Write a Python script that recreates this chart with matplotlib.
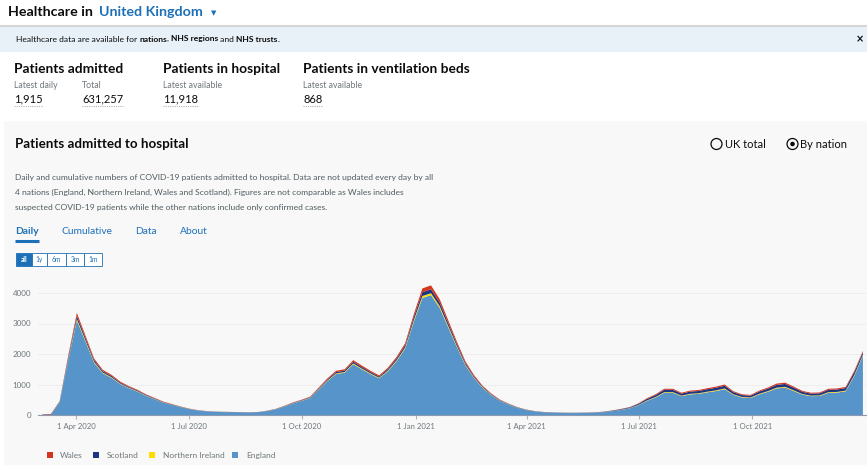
import numpy as np
import matplotlib.pyplot as plt
from matplotlib.patches import Rectangle, Circle

W, H = 867, 465
plt.rcParams['font.family'] = ['Lato', 'DejaVu Sans']

# weekly admissions by nation (value at mid-week), weeks starting 1 Mar 2020
week_start = np.datetime64('2020-03-01')
england = [0, 0, 415, 1805, 3100, 2405, 1712, 1370, 1220, 1018, 880, 768, 630,
           518, 407, 333, 260, 195, 148, 120, 106, 97, 93, 88, 83, 93,
           130, 185, 277, 380, 462, 555, 832, 1110, 1340, 1387, 1665, 1498, 1340,
           1202, 1433, 1757, 2175, 3052, 3838, 3930, 3515, 2867, 2220, 1618, 1202,
           880, 648, 462, 342, 240, 166, 119, 90, 80, 70, 65, 64,
           68, 75, 93, 126, 169, 220, 321, 464, 575, 727, 727, 617,
           676, 692, 744, 786, 845, 659, 575, 558, 676, 760, 870, 896,
           786, 667, 617, 624, 727, 735, 777, 1280, 1950]
northern_ireland = [0, 2, 7, 29, 50, 39, 28, 22, 20, 16, 14, 12, 10,
                    8, 7, 5, 4, 3, 2, 2, 2, 2, 1, 1, 1, 1,
                    2, 3, 5, 6, 8, 9, 14, 18, 22, 23, 27, 24, 22,
                    20, 23, 29, 35, 50, 62, 64, 57, 47, 36, 26, 20,
                    14, 10, 8, 6, 4, 3, 2, 2, 2, 2, 2, 2,
                    2, 3, 3, 4, 5, 7, 10, 14, 17, 22, 22, 18,
                    20, 21, 22, 23, 25, 20, 17, 17, 20, 23, 26, 27,
                    23, 20, 18, 19, 22, 22, 23, 30, 30]
scotland = [10, 18, 14, 58, 100, 78, 55, 44, 40, 33, 28, 25, 20,
            17, 13, 11, 8, 6, 5, 4, 3, 3, 3, 3, 3, 3,
            4, 6, 9, 12, 15, 18, 27, 36, 44, 45, 54, 49, 44,
            39, 47, 57, 70, 99, 125, 128, 114, 93, 72, 53, 39,
            28, 21, 15, 11, 8, 6, 5, 5, 5, 5, 5, 6,
            7, 8, 10, 14, 18, 23, 34, 50, 61, 77, 77, 66,
            72, 74, 79, 84, 90, 70, 61, 59, 72, 81, 93, 95,
            84, 71, 66, 67, 77, 78, 83, 95, 80]
wales = [10, 15, 14, 58, 100, 78, 55, 44, 40, 33, 28, 25, 20,
         17, 13, 11, 8, 6, 5, 4, 4, 3, 3, 3, 3, 3,
         4, 6, 9, 12, 15, 18, 27, 36, 44, 45, 54, 49, 44,
         39, 47, 57, 70, 99, 125, 128, 114, 93, 72, 53, 39,
         28, 21, 15, 11, 8, 5, 4, 3, 3, 3, 3, 3,
         3, 4, 4, 6, 8, 10, 15, 22, 27, 34, 34, 29,
         32, 33, 35, 37, 40, 31, 27, 26, 32, 36, 41, 42,
         37, 32, 29, 30, 34, 35, 37, 45, 40]

tick_dates = ['2020-04-01', '2020-07-01', '2020-10-01', '2021-01-01',
              '2021-04-01', '2021-07-01', '2021-10-01']
tick_labels = ['1 Apr 2020', '1 Jul 2020', '1 Oct 2020', '1 Jan 2021',
               '1 Apr 2021', '1 Jul 2021', '1 Oct 2021']

nations = ['England', 'Northern Ireland', 'Scotland', 'Wales']
colors = {'England': '#5694ca', 'Northern Ireland': '#ffdd00',
          'Scotland': '#1d3582', 'Wales': '#d4351c'}
series = {'England': england, 'Northern Ireland': northern_ireland,
          'Scotland': scotland, 'Wales': wales}

BLUE = '#1d70b8'
GREY = '#6f777b'
DARK = '#0b0c0c'

fig = plt.figure(figsize=(W / 100, H / 100), dpi=100)
bg = fig.add_axes([0, 0, 1, 1])
bg.set_xlim(0, W)
bg.set_ylim(H, 0)
bg.axis('off')
renderer = fig.canvas.get_renderer()


def put(x, y, s, **kw):
    kw.setdefault('va', 'center')
    kw.setdefault('color', DARK)
    return bg.text(x, y, s, **kw)


def put_parts(x, y, parts, **kw):
    for s, weight in parts:
        t = put(x, y, s, fontweight=weight, **kw)
        x = t.get_window_extent(renderer).x1


# header
put(8, 12, 'Healthcare in', fontsize=10.3, fontweight='bold')
put(99, 12, 'United Kingdom', fontsize=10.3, fontweight='bold', color=BLUE)
put(211, 13, '\u25bc', fontsize=5, color=BLUE, family='DejaVu Sans')

# info banner
bg.add_patch(Rectangle((0, 26), W, 26, fc='#e8f1f8', ec='none'))
bg.plot([0, W], [26.5, 26.5], color='#d6d6d6', lw=1.5)
put_parts(16, 39, [('Healthcare data are available for ', 'normal'),
                   ('nations', 'bold'), (', ', 'normal'),
                   ('NHS regions', 'bold'), (' and ', 'normal'),
                   ('NHS trusts', 'bold'), ('.', 'normal')], fontsize=6.1)
put(860, 39, '\u00d7', fontsize=7, fontweight='bold', ha='center', family='DejaVu Sans')

# headline numbers
heads = [(14, 'Patients admitted'), (163, 'Patients in hospital'),
         (303, 'Patients in ventilation beds')]
for x, s in heads:
    put(x, 69, s, fontsize=9.9, fontweight='bold')
subs = [(14, 'Latest daily', '1,915'), (82, 'Total', '631,257'),
        (163, 'Latest available', '11,918'), (303, 'Latest available', '868')]
for x, lab, val in subs:
    put(x, 85, lab, fontsize=6.3, color=GREY)
    t = put(x, 99, val, fontsize=8.0)
    x1 = t.get_window_extent(renderer).x1
    bg.plot([x, x1], [106.5, 106.5], color='#b1b4b6', lw=0.8, ls=(0, (1, 1)))

# card
bg.add_patch(Rectangle((4, 121), W - 4, H - 121, fc='#f8f8f8', ec='none'))
put(15, 144, 'Patients admitted to hospital', fontsize=9.6, fontweight='bold')

bg.add_patch(Circle((716.5, 144), 5.5, fill=False, ec=DARK, lw=0.9))
put(725, 144, 'UK total', fontsize=8.0)
bg.add_patch(Circle((792.5, 144), 5.5, fill=False, ec=DARK, lw=0.9))
bg.add_patch(Circle((792.5, 144), 2.3, fc=DARK, ec='none'))
put(800, 144, 'By nation', fontsize=8.0)

desc = ['Daily and cumulative numbers of COVID-19 patients admitted to hospital. '
        'Data are not updated every day by all',
        '4 nations (England, Northern Ireland, Wales and Scotland). Figures are not '
        'comparable as Wales includes',
        'suspected COVID-19 patients while the other nations include only confirmed cases.']
for i, line in enumerate(desc):
    put(15, 177 + 15 * i, line, fontsize=6.1, color='#505a5f')

for x, s in [(15, 'Daily'), (61, 'Cumulative'), (135, 'Data'), (180, 'About')]:
    put(x, 231, s, fontsize=7.4, color=BLUE, fontweight='bold' if s == 'Daily' else 'normal')
bg.plot([15, 39], [240.5, 240.5], color=BLUE, lw=2.2, solid_capstyle='butt')

buttons = [('all', 16, 32), ('1y', 32, 47), ('6m', 47, 66), ('3m', 66, 84), ('1m', 84, 102)]
for s, x0, x1 in buttons:
    sel = s == 'all'
    bg.add_patch(Rectangle((x0, 253), x1 - x0, 13, fc=BLUE if sel else 'white',
                           ec=BLUE, lw=0.6))
    put((x0 + x1) / 2, 259.5, s, fontsize=4.8, ha='center',
        color='white' if sel else BLUE, fontweight='bold' if sel else 'normal')

# chart
ax = fig.add_axes([38 / W, 50 / H, 828 / W, 137.25 / H])
ax.set_facecolor('none')
x = np.arange(len(england)) * 7 + 3.5
ax.stackplot(x, *[series[k] for k in nations], colors=[colors[k] for k in nations],
             linewidth=0)

last_day = (np.datetime64('2022-01-01') - week_start).astype(int)
ax.set_xlim(0, last_day)
ax.set_ylim(0, 4500)
ticks = [(np.datetime64(d) - week_start).astype(int) for d in tick_dates]
ax.set_xticks(ticks)
ax.set_xticklabels(tick_labels)
ax.set_yticks([0, 1000, 2000, 3000, 4000])
ax.tick_params(axis='x', length=3, color='#b1b4b6', labelsize=5.6, labelcolor=GREY, pad=3)
ax.tick_params(axis='y', length=0, labelsize=5.8, labelcolor=GREY, pad=5)
ax.grid(axis='y', color='#ececec', lw=0.6)
ax.set_axisbelow(True)
for side in ['top', 'right', 'left']:
    ax.spines[side].set_visible(False)
ax.spines['bottom'].set_color('#8e9ab0')
ax.spines['bottom'].set_linewidth(0.8)

# legend
legend_items = [('Wales', 47, 60), ('Scotland', 93, 107),
                ('Northern Ireland', 149, 163), ('England', 232, 246)]
for name, sx, tx in legend_items:
    bg.add_patch(Rectangle((sx, 452), 5.5, 5.5, fc=colors[name], ec='none'))
    put(tx, 455, name, fontsize=6.0, color=GREY)

fig.savefig('out.png', dpi=100, facecolor='white')
